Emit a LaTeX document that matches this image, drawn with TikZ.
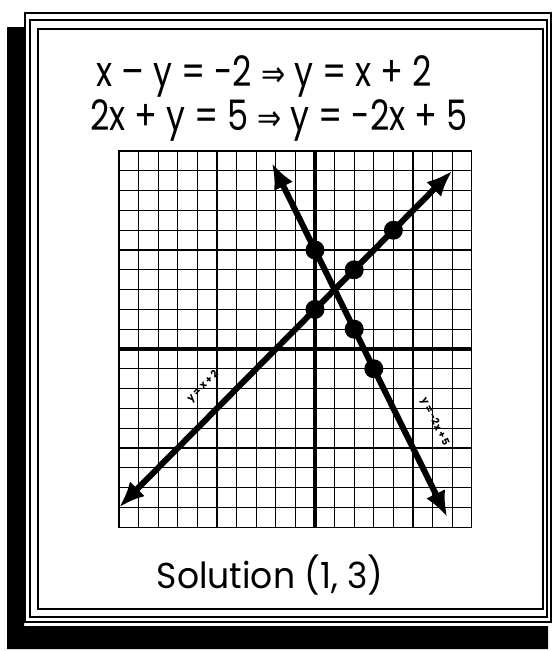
\documentclass[tikz,border=0pt]{standalone}
\usepackage{fontspec}
\setmainfont{Poppins}
\newfontfamily\arrowfont{DejaVu Sans}
\usetikzlibrary{arrows.meta}

\newcommand{\impl}{{\arrowfont\fontsize{36}{40}\selectfont ⇒}}

\begin{document}
\begin{tikzpicture}[x=1pt,y=-1pt]
\tikzstyle{every node}=[inner sep=0pt]
\tikzstyle{frameline}=[line width=1.5pt]
\tikzstyle{gridline}=[line width=1.3pt]
\tikzstyle{axisline}=[line width=3.2pt]
\tikzstyle{solline}=[line width=6pt,{Latex[length=26pt,width=21pt]}-{Latex[length=26pt,width=21pt]}]
\tikzstyle{dot}=[circle,fill,minimum size=19pt]
\tikzstyle{eqtext}=[font=\fontsize{42}{48}\selectfont,anchor=base,xscale=0.8]
\tikzstyle{tag}=[font=\fontsize{10}{10}\selectfont\bfseries]

\useasboundingbox (0,0) rectangle (554,651);

\fill (7,27) -- (24,27) -- (24,626) -- (548,626) -- (548,649) -- (7,649) -- cycle;
\draw[frameline] (25,13) rectangle (551,622);
\draw[frameline] (30,20) rectangle (547,617);
\draw[frameline] (38,29) rectangle (543,609);

\node[eqtext] (eq1) at (264,86) {x – y = -2 \impl{} y = x + 2};
\node[eqtext] (eq2) at (279,130) {2x + y = 5 \impl{} y = -2x + 5};
\node[eqtext,font=\fontsize{36}{40}\selectfont,xscale=1.2] (sol) at (270,588) {Solution (1, 3)};

\begin{scope}[shift={(315,349)},x=19.6pt,y=19.8pt]
\draw[gridline,xstep=1,ystep=1] (-10,-9) grid (8,10);
\draw[gridline] (-10,-9) rectangle (8,10);
\draw[axisline] (0,-9) -- (0,10);
\draw[axisline] (-10,0) -- (8,0);

\coordinate (a1) at (-10,-8);
\coordinate (a2) at (7,9);
\coordinate (b1) at (-2.2,9.4);
\coordinate (b2) at (6.75,-8.5);
\draw[solline] (a1) -- (a2);
\draw[solline] (b1) -- (b2);

\node[dot] (p1) at (0,2) {};
\node[dot] (p2) at (2,4) {};
\node[dot] (p3) at (4,6) {};
\node[dot] (q1) at (0,5) {};
\node[dot] (q2) at (2,1) {};
\node[dot] (q3) at (3,-1) {};

\node[tag,rotate=45] (ta) at (-5.7,-1.9) {y = x + 2};
\node[tag,rotate=-64] (tb) at (6.1,-3.7) {y = -2x + 5};
\end{scope}
\end{tikzpicture}
\end{document}
